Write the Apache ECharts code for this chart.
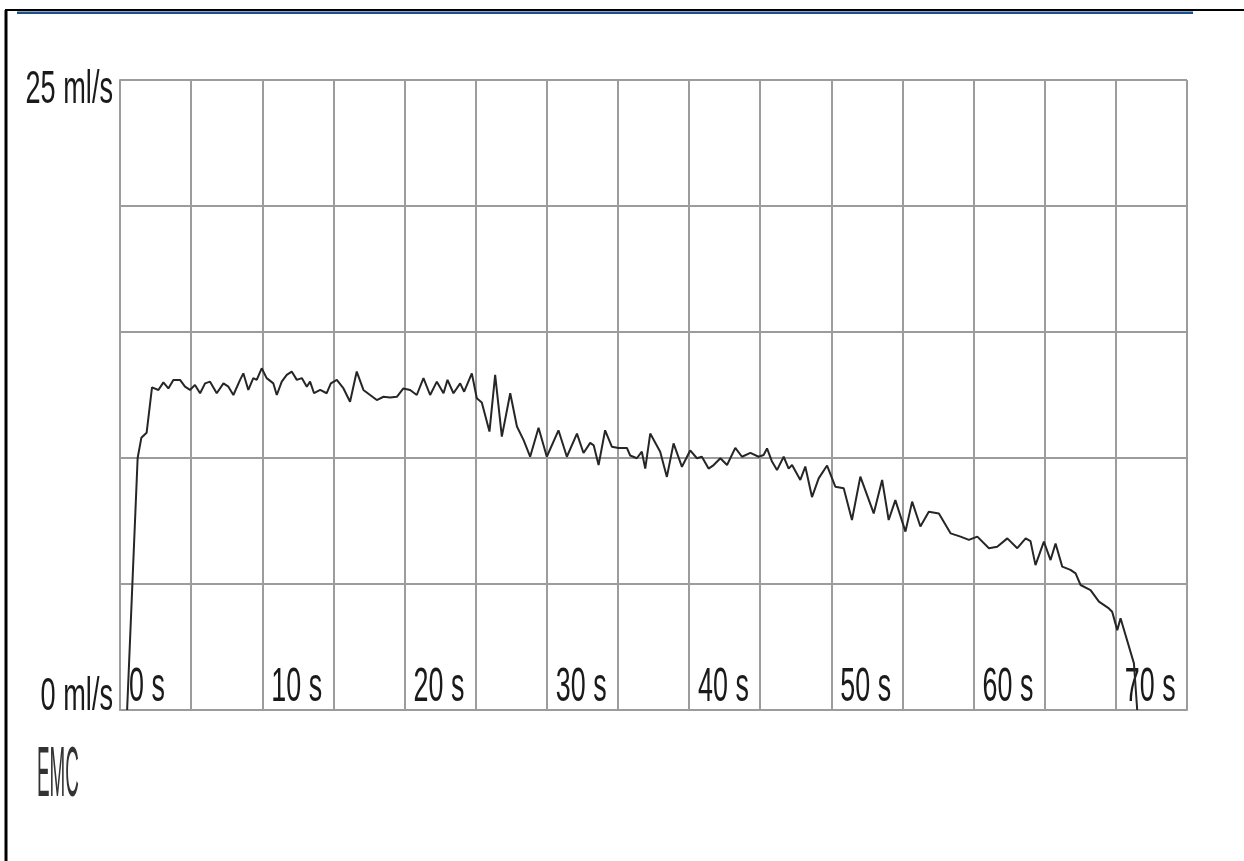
<!DOCTYPE html>
<html>
<head>
<meta charset="utf-8">
<script src="https://cdn.jsdelivr.net/npm/echarts@6/dist/echarts.min.js"></script>
<style>
html,body{margin:0;padding:0;background:#fff;}
#chart{width:1244px;height:861px;}
</style>
</head>
<body>
<div id="chart"></div>
<script>
// time (s) of each sample
const times = [
  0.5, 0.87, 1.24, 1.5, 1.87, 2.25, 2.70, 3.05, 3.40, 3.75, 4.22, 4.57, 4.92, 5.27, 5.63, 5.98,
  6.33, 6.80, 7.27, 7.62, 7.97, 8.44, 8.67, 9.02, 9.37, 9.61, 9.96, 10.31, 10.78, 11.02, 11.37,
  11.72, 12.07, 12.43, 12.78, 13.13, 13.36, 13.64, 14.07, 14.53, 14.82, 15.24, 15.71, 16.17,
  16.64, 17.11, 17.58, 18.05, 18.52, 18.99, 19.46, 19.92, 20.39, 20.86, 21.33, 21.80, 22.27,
  22.74, 23.02, 23.44, 23.91, 24.19, 24.73, 25.08, 25.43, 25.97, 26.37, 26.84, 27.43, 27.90,
  28.37, 28.83, 29.42, 30.00, 30.82, 31.41, 32.12, 32.58, 33.05, 33.30, 33.64, 34.10, 34.57,
  35.04, 35.63, 35.86, 36.33, 36.68, 36.92, 37.27, 37.97, 38.44, 38.91, 39.50, 40.08, 40.55,
  40.90, 41.37, 41.73, 42.20, 42.67, 43.25, 43.72, 44.31, 44.89, 45.24, 45.48, 45.83, 46.18,
  46.65, 47.00, 47.24, 47.82, 48.17, 48.64, 49.11, 49.70, 50.28, 50.87, 51.45, 52.04, 52.98,
  53.57, 54.03, 54.50, 55.21, 55.68, 56.26, 56.85, 57.56, 58.38, 59.08, 59.67, 60.26, 61.08,
  61.66, 62.37, 63.07, 63.66, 64.00, 64.35, 64.94, 65.41, 65.76, 66.23, 66.81, 67.17, 67.52,
  68.22, 68.81, 69.51, 69.74, 70.10, 70.33, 71.27, 71.50
];
// flow rate (ml/s) of each sample
const flows = [
  0, 5, 10, 10.8, 11.0, 12.8, 12.70, 13.00, 12.76, 13.10, 13.10, 12.83, 12.70, 12.90, 12.57, 12.96,
  13.03, 12.57, 12.96, 12.83, 12.50, 13.10, 13.36, 12.70, 13.17, 13.10, 13.56, 13.17, 12.96, 12.50, 13.03,
  13.30, 13.43, 13.10, 13.17, 12.83, 13.03, 12.57, 12.70, 12.57, 12.96, 13.10, 12.76, 12.23,
  13.43, 12.70, 12.50, 12.30, 12.43, 12.40, 12.43, 12.76, 12.70, 12.50, 13.17, 12.50, 13.03,
  12.57, 13.10, 12.57, 12.96, 12.63, 13.36, 12.37, 12.20, 11.05, 13.30, 10.85, 12.57, 11.25,
  10.71, 10.05, 11.20, 10.05, 11.10, 10.05, 10.97, 10.20, 10.60, 10.50, 9.72, 11.10, 10.45,
  10.40, 10.40, 10.10, 9.99, 10.25, 9.58, 10.97, 10.25, 9.25, 10.58, 9.65, 10.30, 9.99,
  10.05, 9.58, 9.72, 9.99, 9.72, 10.40, 10.05, 10.20, 10.05, 10.12, 10.38, 9.86, 9.52,
  10.05, 9.58, 9.72, 9.13, 9.66, 8.45, 9.19, 9.70, 8.86, 8.80, 7.54, 9.26, 7.80,
  9.13, 7.54, 8.33, 7.08, 8.27, 7.28, 7.87, 7.80, 7.01, 6.88, 6.75, 6.88, 6.42,
  6.48, 6.81, 6.42, 6.81, 6.70, 5.75, 6.68, 5.95, 6.61, 5.69, 5.56, 5.42, 4.96,
  4.76, 4.30, 4.03, 3.90, 3.17, 3.64, 1.85, 0.0
];
const xTickValues = [0, 10, 20, 30, 40, 50, 60, 70];
const xTickLabels = ['0 s', '10 s', '20 s', '30 s', '40 s', '50 s', '60 s', '70 s'];
const yTickValues = [0, 25];
const yTickLabels = ['0 ml/s', '25 ml/s'];
const logoText = 'EMC';

const chart = echarts.init(document.getElementById('chart'), null, {renderer: 'canvas'});
const gridLine = {show: true, lineStyle: {color: '#9c9c9c', width: 2}};
const option = {
  animation: false,
  backgroundColor: '#ffffff',
  grid: {left: 120, right: 57, top: 80, bottom: 151, containLabel: false},
  xAxis: {
    type: 'value', min: 0, max: 75, interval: 5,
    axisLine: {show: true, lineStyle: {color: '#9c9c9c', width: 2}},
    axisTick: {show: false},
    axisLabel: {show: false},
    splitLine: gridLine
  },
  yAxis: {
    type: 'value', min: 0, max: 25, interval: 5,
    axisLine: {show: true, lineStyle: {color: '#9c9c9c', width: 2}},
    axisTick: {show: false},
    axisLabel: {show: false},
    splitLine: gridLine
  },
  series: [{
    type: 'line',
    data: times.map((t, i) => [t, flows[i]]),
    showSymbol: false,
    symbol: 'none',
    lineStyle: {color: '#262626', width: 2},
    clip: false
  }]
};
chart.setOption(option);

const font = '"Liberation Sans", Arial, sans-serif';
const graphics = [];
// frame
graphics.push({type: 'line', shape: {x1: 6, y1: 10, x2: 6, y2: 861}, style: {stroke: '#000', lineWidth: 3}, silent: true});
graphics.push({type: 'line', shape: {x1: 5, y1: 10, x2: 1244, y2: 10}, style: {stroke: '#000', lineWidth: 2}, silent: true});
graphics.push({type: 'rect', shape: {x: 17, y: 11.5, width: 1176, height: 2.5}, style: {fill: '#1d4f86'}, silent: true});

xTickValues.forEach((v, i) => {
  const p = chart.convertToPixel({gridIndex: 0}, [v, 0]);
  graphics.push({
    type: 'text', x: p[0] + 9, y: p[1] + 2, scaleX: 0.56,
    style: {text: xTickLabels[i], fontSize: 48, fontFamily: font, fill: '#1a1a1a', align: 'left', verticalAlign: 'bottom'}
  });
});
yTickValues.forEach((v, i) => {
  const p = chart.convertToPixel({gridIndex: 0}, [0, v]);
  const dy = v === 0 ? 10 : 33;
  graphics.push({
    type: 'text', x: p[0] - 7, y: p[1] + dy, scaleX: 0.59,
    style: {text: yTickLabels[i], fontSize: 46, fontFamily: font, fill: '#1a1a1a', align: 'right', verticalAlign: 'bottom'}
  });
});
graphics.push({
  type: 'text', x: 37, y: 812, scaleX: 0.27,
  style: {text: logoText, fontSize: 70, fontFamily: font, fill: '#333', align: 'left', verticalAlign: 'bottom'}
});
chart.setOption({graphic: graphics});
</script>
</body>
</html>
